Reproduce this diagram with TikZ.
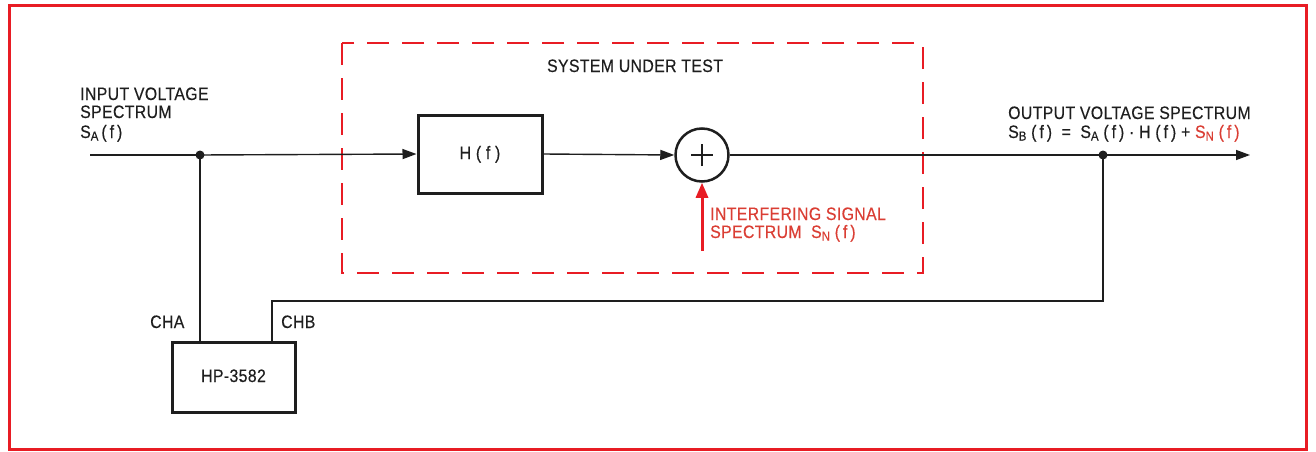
\documentclass[tikz,border=0pt]{standalone}
\usepackage{fontspec}
\setmainfont{Liberation Sans}[FakeStretch=0.88,LetterSpace=2,FakeBold=0.35]
\usetikzlibrary{arrows.meta}
\definecolor{hpred}{RGB}{232,28,36}
\definecolor{txtred}{RGB}{218,62,52}
\definecolor{ink}{RGB}{30,30,30}
\newcommand\subsc[1]{\raisebox{-2.5pt}{\fontsize{13}{13}\selectfont #1}}
\newcommand\pf{(\,f\,)}
\begin{document}
\begin{tikzpicture}[x=1pt,y=-1pt,
  txt/.style={font=\fontsize{18}{19}\selectfont, text=ink, inner sep=0pt},
  sig/.style={draw=ink, line width=1.4pt},
  arr/.style={sig, -{Triangle[length=14pt,width=10pt]}},
  blk/.style={draw=ink, line width=3pt, inner sep=0pt},
  dot/.style={circle, fill=ink, inner sep=0pt, minimum size=9pt},
  dashbox/.style={draw=hpred, line width=2.8pt, dash pattern=on 22pt off 13pt},
  frame/.style={draw=hpred, line width=3pt}
]
\useasboundingbox (0,0) rectangle (1316,452);
\draw[frame] (9,6) rectangle (1306,449);

% dashed system box
\draw[dashbox] (342,43) rectangle (923,273);
\node[txt, anchor=base] (sut) at (635,72) {SYSTEM UNDER TEST};

% blocks
\node[blk, minimum width=124pt, minimum height=78pt] (H) at (480,154) {};
\node[txt, anchor=base] (Hl) at (480,159) {H ( f )};
\node[circle, draw=ink, line width=2.5pt, minimum size=53pt, inner sep=0pt] (sum) at (702,155) {};
\draw[ink, line width=1.6pt] ([xshift=-11pt]sum.center) -- ([xshift=11pt]sum.center);
\draw[ink, line width=1.6pt] ([yshift=-11pt]sum.center) -- ([yshift=11pt]sum.center);
\node[blk, minimum width=123pt, minimum height=70pt] (hp) at (233.5,377) {};
\node[txt, anchor=base] (hpl) at (233.5,382) {HP-3582};

% signal path
\coordinate (in) at (90,155);
\node[dot] (j1) at (200,155) {};
\node[dot] (j2) at (1103,155) {};
\coordinate (out) at (1250,155);
\draw[sig] (in) -- (j1.center);
\draw[arr] (j1.center) -- (H.west);
\draw[arr] (H.east) -- (sum.west);
\draw[sig] (sum.east) -- (j2.center);
\draw[arr] (j2.center) -- (out);

% analyzer connections
\draw[sig] (j1.center) -- (j1 |- hp.north);
\coordinate (cbturn) at (272,301);
\draw[sig] (j2.center) |- (cbturn) -- (cbturn |- hp.north);
\node[txt, anchor=base west] (cha) at (150,328) {CHA};
\node[txt, anchor=base west] (chb) at (281,328) {CHB};

% interfering signal
\coordinate (intail) at (702,251);
\draw[draw=hpred, line width=3pt, -{Triangle[length=15pt,width=12pt]}] (intail) -- (sum.south);
\node[txt, text=txtred, anchor=base west] (intf) at (710,220) {INTERFERING SIGNAL};
\node[txt, text=txtred, anchor=base west] (intf2) at (710,238) {SPECTRUM\ \ S\subsc{N}\ \pf};

% input label
\node[txt, anchor=base west] (inl1) at (80,100) {INPUT VOLTAGE};
\node[txt, anchor=base west] (inl2) at (80,118) {SPECTRUM};
\node[txt, anchor=base west] (inl3) at (80,138) {S\subsc{A}\,\pf};

% output label
\node[txt, anchor=base west] (outl1) at (1008,119) {OUTPUT VOLTAGE SPECTRUM};
\node[txt, anchor=base west] (outl2) at (1008,138) {S\subsc{B}\ \pf\ \ =\ \ S\subsc{A}\ \pf\ \textperiodcentered\ H\ \pf\ +\ \textcolor{txtred}{S\subsc{N}\ \pf}};
\end{tikzpicture}
\end{document}
